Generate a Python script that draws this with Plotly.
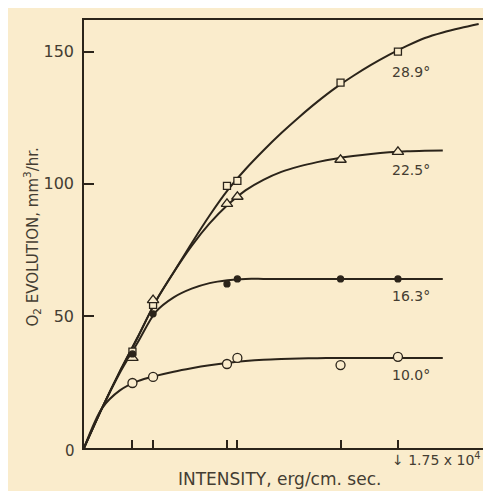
import plotly.graph_objects as go

# light intensity at which measurements were taken (erg/cm. sec.)
intensity = [2700, 3850, 7970, 8550, 14300, 17500]

# O2 evolution (mm3/hr) at each temperature
o2_289 = [36.5, 54.2, 99.2, 101.1, 138.3, 150.0]
o2_225 = [34.1, 56.0, 92.4, 95.1, 109.1, 112.1]
o2_163 = [35.6, 50.8, 62.1, 64.0, 64.0, 64.0]
o2_100 = [24.6, 26.9, 31.8, 34.1, 31.4, 34.5]

# hand-drawn fitted curves, every 1000 erg/cm. sec.
curve_x = [0, 1000, 2000, 3000, 4000, 5000, 6000, 7000, 8000, 9000, 10000, 11000,
           12000, 13000, 14000, 15000, 16000, 17000, 18000, 19000, 20000, 21000, 22000]
curve_289 = [0, 15, 29, 42, 55.5, 66.5, 77.5, 88, 97.5, 105.5, 112.6, 119.2,
             125.3, 131, 136.2, 140.8, 145, 148.8, 152.2, 155.2, 157.3, 159, 160.5]
curve_225 = [0, 15, 29, 42, 55.5, 66.5, 76.5, 85, 92, 97.5, 101.5, 104.5,
             106.6, 108.2, 109.5, 110.5, 111.3, 111.9, 112.3, 112.5, 112.6]
curve_163 = [0, 15, 28.5, 40, 51.5, 57, 60.3, 62.4, 63.5, 64, 64, 64,
             64, 64, 64, 64, 64, 64, 64, 64, 64]
curve_100 = [0, 15, 21.8, 25.3, 27.3, 28.9, 30.2, 31.3, 32.2, 32.9, 33.4, 33.7,
             33.9, 34, 34.1, 34.1, 34.1, 34.1, 34.1, 34.1, 34.1]

temps = ["28.9°", "22.5°", "16.3°", "10.0°"]
label_y = [142.4, 105.3, 57.6, 27.7]

bg = "#faeccc"
ink = "#2b241a"
txt = "#443d32"
font = "DejaVu Sans"

fig = go.Figure()

for cy in [curve_289, curve_225, curve_163, curve_100]:
    fig.add_trace(go.Scatter(x=curve_x[:len(cy)], y=cy, mode="lines",
                             line=dict(color=ink, width=2, shape="spline", smoothing=0.8),
                             showlegend=False, hoverinfo="skip"))

# markers: open square, open triangle, filled dot, open circle
marks = [
    (o2_289, "square", 7, bg),
    (o2_225, "triangle-up", 10, bg),
    (o2_163, "circle", 6, ink),
    (o2_100, "circle", 9, bg),
]
for ys, sym, sz, fill in marks:
    fig.add_trace(go.Scatter(x=intensity, y=ys, mode="markers",
                             marker=dict(symbol=sym, size=sz, color=fill,
                                         line=dict(color=ink, width=1.3)),
                             showlegend=False))

for t, ly in zip(temps, label_y):
    fig.add_annotation(x=18250, y=ly, text=t, showarrow=False,
                       font=dict(family=font, size=14, color=txt))

fig.add_annotation(x=17500, y=0, yshift=-11, xshift=-8, xanchor="left",
                   text="↓ 1.75 x 10<sup>4</sup>", showarrow=False,
                   font=dict(family=font, size=14, color=txt))
fig.add_annotation(x=0, y=0, xshift=-14, yshift=-3, text="0", showarrow=False,
                   font=dict(family=font, size=15, color=txt))

# axis titles
fig.add_annotation(xref="paper", yref="paper", x=0.483, y=0, yshift=-43,
                   text="INTENSITY, erg/cm. sec.", showarrow=False,
                   font=dict(family=font, size=17, color=txt))
fig.add_annotation(xref="paper", yref="paper", x=0, xshift=-64, y=0.493,
                   text="O<sub>2</sub> EVOLUTION, mm<sup>3</sup>/hr.", textangle=-90,
                   showarrow=False, font=dict(family=font, size=15, color=txt))

fig.update_layout(
    width=491, height=491,
    paper_bgcolor=bg, plot_bgcolor=bg,
    margin=dict(l=76, r=11, t=12, b=51),
    font=dict(family=font, color=txt),
    xaxis=dict(range=[0, 22520], showgrid=False, zeroline=False, automargin=False,
               showline=True, linecolor=ink, linewidth=1.5, mirror=True,
               ticks="inside", ticklen=8, tickwidth=1.5, tickcolor=ink,
               tickvals=intensity, showticklabels=False),
    yaxis=dict(range=[0, 162], showgrid=False, zeroline=False, automargin=False,
               showline=True, linecolor=ink, linewidth=1.5, mirror=True,
               ticks="inside", ticklen=10, tickwidth=1.5, tickcolor=ink,
               tickvals=[50, 100, 150], ticktext=["50", "100", "150"],
               tickfont=dict(size=16), ticklabelstandoff=5),
)

fig.write_html("out.html")
